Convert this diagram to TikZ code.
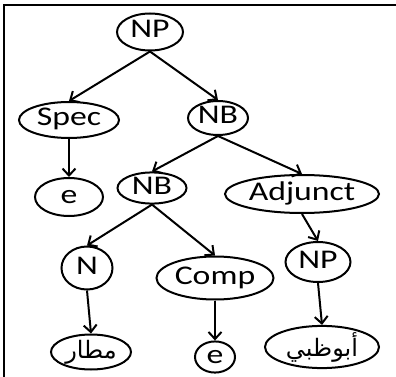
\documentclass[tikz,border=0pt]{standalone}
\usepackage{fontspec}
\usetikzlibrary{shapes.geometric,arrows.meta}
\newfontfamily\catfont[FakeStretch=1.25]{Carlito}
\newfontfamily\arabicfont[Script=Arabic]{DejaVu Sans}
\TeXXeTstate=1
\tikzset{
  cat/.style={ellipse, draw, line width=2pt, inner sep=0pt,
    font=\catfont\fontsize{27}{27}\selectfont, text height=17pt, text depth=5pt},
  arb/.style={ellipse, draw, line width=2pt, inner sep=0pt,
    font=\arabicfont\fontsize{24}{24}\selectfont},
  branch/.style={line width=2pt, -{Straight Barb[length=7pt,width=13pt]}}
}
\begin{document}
\begin{tikzpicture}[x=1pt,y=1pt]
				\useasboundingbox (0,0) rectangle (396,-377);
				\draw[line width=2.2pt] (4,-377) -- (4,-5) -- (396,-5);
				% tree nodes
				\node[cat, minimum width=66pt, minimum height=37pt] (np) at (150,-32) {NP};
				\node[cat, minimum width=100pt, minimum height=36pt] (spec) at (69,-120) {Spec};
				\node[cat, minimum width=60pt, minimum height=34pt] (nb) at (218,-118) {NB};
				\node[cat, minimum width=68pt, minimum height=38pt] (es) at (69,-197) {e};
				\node[cat, minimum width=69pt, minimum height=31pt] (nbl) at (152,-188) {NB};
				\node[cat, minimum width=154pt, minimum height=38pt] (adj) at (302,-194) {Adjunct};
				\node[cat, minimum width=51pt, minimum height=43pt] (n) at (87,-268) {N};
				\node[cat, minimum width=117pt, minimum height=43pt] (comp) at (215,-278) {Comp};
				\node[cat, minimum width=65pt, minimum height=40pt] (npa) at (318,-262) {NP};
				\node[arb, minimum width=80pt, minimum height=35pt] (matar) at (91,-352) {\beginR مطار\endR};
				\node[cat, minimum width=40pt, minimum height=30pt] (ec) at (215,-357) {e};
				\node[arb, minimum width=114pt, minimum height=39pt] (abu) at (322,-347) {\beginR أبوظبي\endR};
				% branches
				\draw[branch] (np.south) -- (spec.north);
				\draw[branch] (np.south) -- (nb.north);
				\draw[branch] (spec.south) -- (es.north);
				\draw[branch] (nb.south) -- (nbl.north);
				\draw[branch] (nb.south) -- (adj.north);
				\draw[branch] (nbl.south) -- (n.north);
				\draw[branch] (nbl.south) -- (comp.north);
				\draw[branch] (n.south) -- (matar.north);
				\draw[branch] (comp.south) -- (ec.north);
				\draw[branch] (adj.south) -- (npa.north);
				\draw[branch] (npa.south) -- (abu.north);
				\end{tikzpicture}
\end{document}
